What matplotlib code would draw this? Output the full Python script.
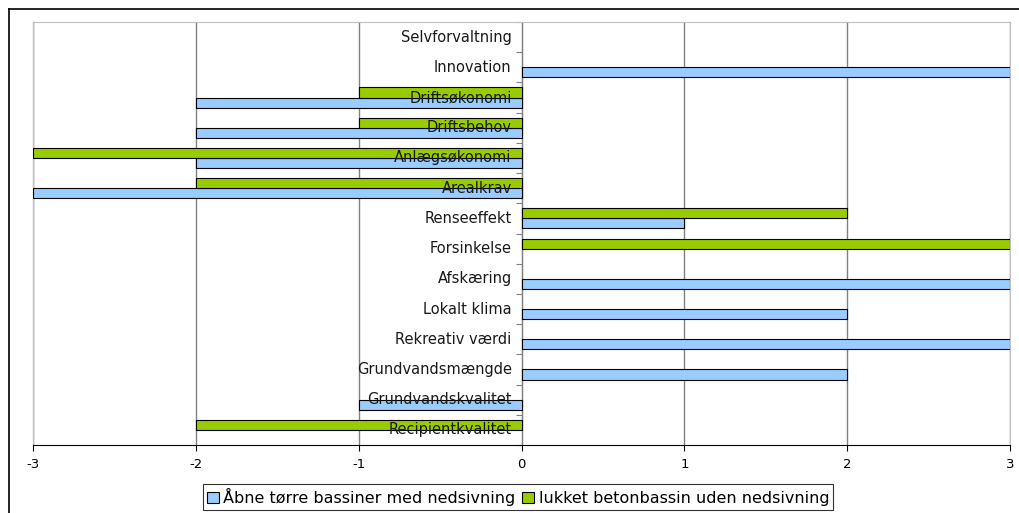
import matplotlib
matplotlib.use("Agg")
import matplotlib.pyplot as plt
from matplotlib.patches import Patch
from matplotlib.lines import Line2D

plt.rcParams["axes.unicode_minus"] = False

# Data (bottom to top)
categories = ["Recipientkvalitet", "Grundvandskvalitet", "Grundvandsmængde",
              "Rekreativ værdi", "Lokalt klima", "Afskæring", "Forsinkelse",
              "Renseeffekt", "Arealkrav", "Anlægsøkonomi", "Driftsbehov",
              "Driftsøkonomi", "Innovation", "Selvforvaltning"]
aabne = [0, -1, 2, 3, 2, 3, 0, 1, -3, -2, -2, -2, 3, 0]
lukket = [-2, 0, 0, 0, 0, 0, 3, 2, -2, -3, -1, -1, 0, 0]
series_names = ["Åbne tørre bassiner med nedsivning",
                "lukket betonbassin uden nedsivning"]

blue = "#99CCFF"
green = "#99CC00"

W, H = 1019, 513
fig = plt.figure(figsize=(W / 100, H / 100), dpi=100)
ax = fig.add_axes([33 / W, 1 - 445 / H, (1010 - 33) / W, (445 - 22) / H])

pos = [i + 0.5 for i in range(len(categories))]
bh = 1 / 3

# zero values are not drawn (no outline at 0)
for vals, off, col in [(aabne, -bh / 2, blue), (lukket, bh / 2, green)]:
    ys = [p + off for p, v in zip(pos, vals) if v != 0]
    vs = [v for v in vals if v != 0]
    ax.barh(ys, vs, height=bh, color=col, edgecolor="black",
            linewidth=0.8, zorder=3)

ax.set_xlim(-3, 3)
ax.set_ylim(0, len(categories))
ax.set_xticks(range(-3, 4))
ax.tick_params(axis="x", length=4, labelsize=9.5, colors="black", pad=5)
ax.grid(axis="x", color="#808080", linewidth=1, zorder=0)

# category axis at x = 0
ax.spines["left"].set_position(("data", 0))
ax.spines["left"].set_color("#808080")
ax.set_yticks(range(len(categories) + 1))
ax.set_yticklabels([])
ax.tick_params(axis="y", length=4, color="#808080", direction="out")
for p, lab in zip(pos, categories):
    ax.text(-0.06, p, lab, ha="right", va="center", fontsize=10.5,
            color="#1a1a1a", zorder=5)

for s in ["top", "right"]:
    ax.spines[s].set_color("#c0c0c0")
ax.spines["bottom"].set_color("black")
# plot area left border
ax.add_line(Line2D([0, 0], [0, 1], transform=ax.transAxes, color="#c0c0c0",
                   linewidth=1, clip_on=False))

# outer chart border (left/top visible)
fig.add_artist(Line2D([9 / W, 9 / W], [0, 1 - 9 / H], color="black", linewidth=1.2))
fig.add_artist(Line2D([9 / W, 1], [1 - 9 / H, 1 - 9 / H], color="black", linewidth=1.2))

handles = [Patch(facecolor=blue, edgecolor="black", linewidth=0.8),
           Patch(facecolor=green, edgecolor="black", linewidth=0.8)]
leg = fig.legend(handles, series_names, loc="center", ncol=2,
                 bbox_to_anchor=(518 / W, 1 - 497 / H), fontsize=11.5,
                 frameon=True, fancybox=False, handlelength=0.75,
                 handleheight=0.75, handletextpad=0.3, columnspacing=0.4,
                 borderpad=0.25)
leg.get_frame().set_edgecolor("black")
leg.get_frame().set_linewidth(0.8)

fig.savefig("out.png", dpi=100)
